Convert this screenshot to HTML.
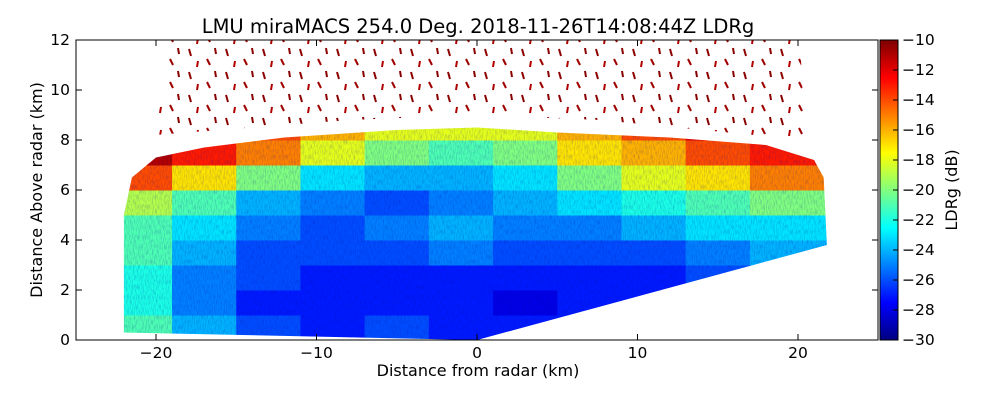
<!DOCTYPE html>
<html><head><meta charset="utf-8"><style>
body{margin:0;background:#fff;width:1000px;height:400px;overflow:hidden}
svg text{font-family:"DejaVu Sans","Liberation Sans",sans-serif;fill:#000}
</style></head><body>
<svg id="c" width="1000" height="400">
<defs>
<clipPath id="wedge"><polygon id="wedgePoly"/></clipPath>
<clipPath id="fan"><polygon points="155,135 170,40 800,40 805,140 600,120 477,115 350,120"/></clipPath>
<pattern id="dash" width="37" height="23" patternUnits="userSpaceOnUse">
<line x1="4" y1="3" x2="6" y2="10" stroke="#8b0000" stroke-width="2"/>
<line x1="22" y1="13" x2="25" y2="19" stroke="#a00000" stroke-width="2"/>
<line x1="30" y1="2" x2="31" y2="8" stroke="#8b0000" stroke-width="2"/>
<line x1="13" y1="15" x2="12" y2="21" stroke="#b00000" stroke-width="2"/>
</pattern>
<filter id="noise"><feTurbulence type="fractalNoise" baseFrequency="0.9 0.2" numOctaves="2" seed="3"/><feColorMatrix values="0 0 0 0 0  0 0 0 0 0  0 0 0 0 0.3  0 0 0 0.5 -0.2"/></filter>
</defs>
<text x="478" y="33" font-size="19.5" text-anchor="middle">LMU miraMACS 254.0 Deg. 2018-11-26T14:08:44Z  LDRg</text>
<g id="plot"></g>
<rect x="76" y="40" width="802" height="300" fill="none" stroke="#000" stroke-width="1"/>
<g id="axes"></g>
<g id="cbar"></g>
<text x="478" y="376" font-size="16" text-anchor="middle">Distance from radar (km)</text>
<text transform="translate(42,190) rotate(-90)" font-size="16" text-anchor="middle">Distance Above radar  (km)</text>
<text transform="translate(957,190) rotate(-90)" font-size="16" text-anchor="middle">LDRg (dB)</text>
</svg>
<script>
const xTicks=[-20,-10,0,10,20];
const yTicks=[0,2,4,6,8,10,12];
const cbTicks=[-10,-12,-14,-16,-18,-20,-22,-24,-26,-28,-30];
const colCenters=[-21,-17,-13,-9,-5,-1,3,7,11,15,19,23];
const rowBottoms=[0,1,2,3,4,5,6,7,8];
const ldrRow0=[-21,-24,-26,-27,-26,-27,-27,-27,-27,-27,-27,-27];
const ldrRow1=[-22,-25,-27,-27,-27,-27,-28,-27,-27,-27,-27,-27];
const ldrRow2=[-22,-25,-26,-27,-27,-27,-27,-27,-27,-26,-26,-26];
const ldrRow3=[-21,-24,-26,-26,-26,-25,-26,-26,-26,-25,-24,-24];
const ldrRow4=[-21,-23,-25,-26,-25,-24,-25,-25,-24,-23,-23,-23];
const ldrRow5=[-19,-21,-24,-25,-26,-25,-24,-23,-22,-21,-20,-20];
const ldrRow6=[-14,-17,-20,-23,-24,-24,-23,-20,-18,-17,-15,-15];
const ldrRow7=[-11,-13,-15,-18,-20,-21,-20,-17,-16,-14,-13,-13];
const ldrRow8=[-12,-12,-14,-16,-18,-18,-18,-16,-14,-12,-12,-12];
const rows=[ldrRow0,ldrRow1,ldrRow2,ldrRow3,ldrRow4,ldrRow5,ldrRow6,ldrRow7,ldrRow8];
const wedgeX=[-22,0,21.8,21.6,21,18,12,5,0,-5,-12,-17,-20,-21.5,-22];
const wedgeY=[0.3,0,3.8,6.5,7.2,7.8,8.1,8.3,8.5,8.4,8.1,7.7,7.3,6.5,5];
const X=v=>477+v*16.05, Y=v=>340-v*25;
const NS="http://www.w3.org/2000/svg";
function mk(t,a,p){const e=document.createElementNS(NS,t);for(const k in a)e.setAttribute(k,a[k]);p.appendChild(e);return e;}
function jet(v){const t=(v+30)/20;const f=x=>Math.max(0,Math.min(1,x));
const r=f(1.5-Math.abs(4*t-3)),g=f(1.5-Math.abs(4*t-2)),b=f(1.5-Math.abs(4*t-1));
return `rgb(${Math.round(r*255)},${Math.round(g*255)},${Math.round(b*255)})`;}
document.getElementById('wedgePoly').setAttribute('points',wedgeX.map((x,i)=>X(x)+','+Y(wedgeY[i])).join(' '));
const plot=document.getElementById('plot');
const dashes=mk('rect',{x:X(-21),y:Y(12),width:X(22)-X(-21),height:Y(6.5)-Y(12),fill:'url(#dash)','clip-path':'url(#fan)'},plot);


const g=mk('g',{'clip-path':'url(#wedge)'},plot);
rows.forEach((row,ri)=>row.forEach((v,ci)=>{
const r=mk('rect',{x:X(colCenters[ci]-2),y:Y(rowBottoms[ri]+1),width:X(2)-X(-2)+0.5,height:Y(0)-Y(1)+0.5,fill:jet(v)},g);


}));
mk('rect',{x:76,y:40,width:802,height:300,filter:'url(#noise)'},g);
const ax=document.getElementById('axes');
xTicks.forEach(t=>{mk('line',{x1:X(t),x2:X(t),y1:340,y2:334,stroke:'#000'},ax);mk('line',{x1:X(t),x2:X(t),y1:40,y2:46,stroke:'#000'},ax);
const tx=mk('text',{x:X(t),y:358,'font-size':15.5,'text-anchor':'middle'},ax);tx.textContent=(t<0?'\u2212'+(-t):t);
});
yTicks.forEach(t=>{mk('line',{x1:76,x2:82,y1:Y(t),y2:Y(t),stroke:'#000'},ax);mk('line',{x1:872,x2:878,y1:Y(t),y2:Y(t),stroke:'#000'},ax);
const tx=mk('text',{x:70,y:Y(t)+5,'font-size':15.5,'text-anchor':'end'},ax);tx.textContent=t;
});
const cb=document.getElementById('cbar');
for(let i=0;i<300;i++){mk('rect',{x:880,y:40+i,width:18,height:1.5,fill:jet(-10-20*i/300)},cb);}
mk('rect',{x:880,y:40,width:18,height:300,fill:'none',stroke:'#000'},cb);
cbTicks.forEach(t=>{const y=40+(-10-t)*15;mk('line',{x1:893,x2:898,y1:y,y2:y,stroke:'#000'},cb);
const tx=mk('text',{x:902,y:y+5,'font-size':15.5},cb);tx.textContent='\u2212'+(-t);
});
</script>
</body></html>
